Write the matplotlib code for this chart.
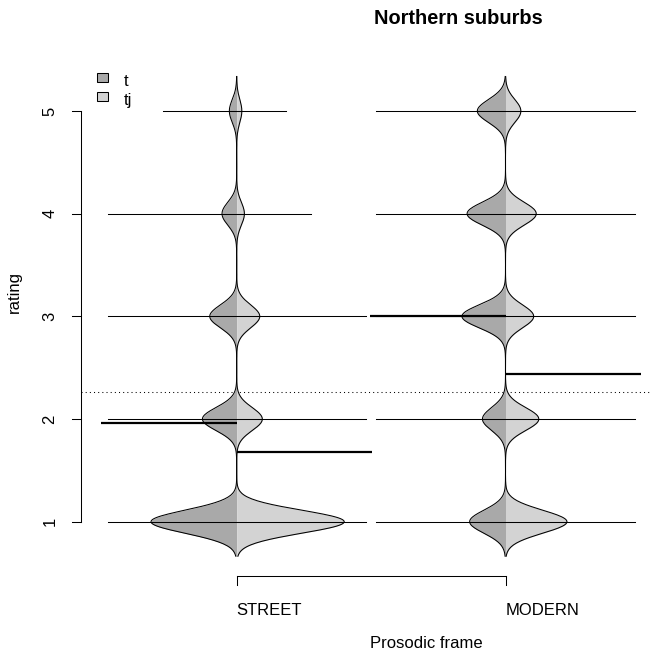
import numpy as np
import matplotlib
matplotlib.use("Agg")
import matplotlib.pyplot as plt
from matplotlib.patches import Rectangle

# ---------------- data ----------------
frames = ["STREET", "MODERN"]
groups = ["t", "tj"]
ratings = [1, 2, 3, 4, 5]
# number of responses per rating (1..5)
street_t = [35, 14, 11, 6, 3]
street_tj = [42, 10, 9, 3, 2]
modern_t = [14, 9, 17, 15, 11]
modern_tj = [24, 13, 11, 12, 6]
yticks = [1, 2, 3, 4, 5]
title = "Northern suburbs"
xlabel = "Prosodic frame"
ylabel = "rating"

counts = {
    ("STREET", "t"): street_t,
    ("STREET", "tj"): street_tj,
    ("MODERN", "t"): modern_t,
    ("MODERN", "tj"): modern_tj,
}

# ---------------- styling ----------------
plt.rcParams["font.family"] = ["Liberation Sans", "DejaVu Sans"]
plt.rcParams["font.size"] = 12
fills = {"t": "#A9A9A9", "tj": "#D3D3D3"}
sides = {"t": -1, "tj": 1}

W, H, DPI = 652, 657, 100
fig = plt.figure(figsize=(W / DPI, H / DPI), dpi=DPI)
ax = fig.add_axes([0, 0, 1, 1])

X1PX, X2PX = 236.7, 505.5
YR1, YR5 = 521.7, 111.0
ux = X2PX - X1PX
uy = (YR1 - YR5) / 4.0
ax.set_xlim(1 - X1PX / ux, 1 + (W - X1PX) / ux)
ax.set_ylim(1 - (H - YR1) / uy, 1 + YR1 / uy)
ax.axis("off")


def px(xp):
    return 1 + (xp - X1PX) / ux


def py(yp):
    return 1 + (YR1 - yp) / uy


# ---------------- densities ----------------
bw = 0.112
r = np.array(ratings, dtype=float)
grid = np.linspace(min(ratings) - 3 * bw, max(ratings) + 3 * bw, 512)


def dens(c):
    c = np.array(c, dtype=float)
    k = np.exp(-0.5 * ((grid[:, None] - r[None, :]) / bw) ** 2)
    return (k * c[None, :]).sum(axis=1) / (c.sum() * bw * np.sqrt(2 * np.pi))


D = {key: dens(v) for key, v in counts.items()}
dmax = max(d.max() for d in D.values())
maxhalf = 0.4

for i, fr in enumerate(frames):
    pos = i + 1
    for g in groups:
        w = D[(fr, g)] / dmax * maxhalf * sides[g]
        ax.fill_betweenx(grid, pos, pos + w, color=fills[g], lw=0, zorder=2)
        ax.plot(pos + w, grid, color="black", lw=0.75, zorder=3)

# beanlines (one line per rating, length by count)
ll = 0.092
cap = 0.48
for i, fr in enumerate(frames):
    pos = i + 1
    for j, rv in enumerate(ratings):
        left = min(ll * counts[(fr, "t")][j], cap)
        right = min(ll * counts[(fr, "tj")][j], cap)
        ax.plot([pos - left, pos + right], [rv, rv], color="black", lw=0.75, zorder=4)

# bean averages
for i, fr in enumerate(frames):
    pos = i + 1
    for g in groups:
        c = np.array(counts[(fr, g)], dtype=float)
        m = (c * r).sum() / c.sum()
        x0, x1 = (pos - 0.505, pos) if sides[g] < 0 else (pos, pos + 0.505)
        ax.plot([x0, x1], [m, m], color="black", lw=1.6, zorder=5, solid_capstyle="butt")

# overall mean line
allc = np.sum([np.array(v, dtype=float) for v in counts.values()], axis=0)
overall = (allc * r).sum() / allc.sum()
ax.plot([px(81), ax.get_xlim()[1]], [overall, overall], color="black", lw=0.75,
        linestyle=(0, (1, 3)), zorder=1)

# y axis
ax.plot([px(81), px(81)], [yticks[0], yticks[-1]], color="black", lw=0.75)
for t in yticks:
    ax.plot([px(72), px(81)], [t, t], color="black", lw=0.75)
    ax.text(px(50), t, str(t), rotation=90, ha="center", va="center", fontsize=12)

# x axis
ax.plot([1, len(frames)], [py(576), py(576)], color="black", lw=0.75)
for i, fr in enumerate(frames):
    pos = i + 1
    ax.plot([pos, pos], [py(576), py(585)], color="black", lw=0.75)
    ax.text(pos, py(615), fr, ha="left", va="baseline", fontsize=12)

# labels
fig.text(458.5 / W, 1 - 24 / H, title, ha="center", va="baseline",
         fontsize=14.4, fontweight="bold")
fig.text(426 / W, 1 - 648 / H, xlabel, ha="center", va="baseline", fontsize=12)
fig.text(14 / W, 1 - 292 / H, ylabel, rotation=90, ha="center", va="center", fontsize=12)

# legend
for k, g in enumerate(groups):
    top = 73.3 + 19 * k
    ax.add_patch(Rectangle((px(96.7), py(top + 9)), 11.6 / ux, 9 / uy,
                           facecolor=fills[g], edgecolor="black", lw=0.75, zorder=6))
    ax.text(px(124), py(86.5 + 18.5 * k), g, ha="left", va="baseline", fontsize=12)

fig.savefig("out.png", dpi=DPI)
